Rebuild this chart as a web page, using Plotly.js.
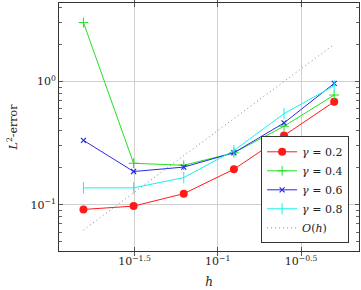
<!DOCTYPE html>
<html>
<head>
<meta charset="utf-8">
<script src="https://cdn.plot.ly/plotly-3.0.1.min.js"></script>
<style>
  html, body { margin: 0; padding: 0; background: #fff; }
  #chart { width: 361px; height: 290px; }
</style>
</head>
<body>
<div id="chart"></div>
<script>
// mesh sizes h = 1/64 ... 1/2
const h = [1/64, 1/32, 1/16, 1/8, 1/4, 1/2];

// L2 errors for each gamma
const err02 = [0.0916, 0.0975, 0.123, 0.194, 0.364, 0.685];
const err04 = [3.0, 0.217, 0.209, 0.264, 0.433, 0.776];
const err06 = [0.333, 0.186, 0.202, 0.264, 0.461, 0.964];
const err08 = [0.137, 0.137, 0.166, 0.275, 0.548, 0.923];

// reference slope: O(h) = 4h
const refCoef = 4;
const refLine = h.map(v => refCoef * v);

const seriesNames = ['<i>γ</i> = 0.2', '<i>γ</i> = 0.4', '<i>γ</i> = 0.6', '<i>γ</i> = 0.8'];
const refName = '<i>O</i>(<i>h</i>)';

const xTickVals = [Math.pow(10, -1.5), 0.1, Math.pow(10, -0.5)];
const xTickText = ['10<sup>−1.5</sup>', '10<sup>−1</sup>', '10<sup>−0.5</sup>'];
const yTickVals = [0.1, 1];
const yTickText = ['10<sup>−1</sup>', '10<sup>0</sup>'];
const yMinorVals = [0.05, 0.06, 0.07, 0.08, 0.09, 0.2, 0.3, 0.4, 0.5, 0.6, 0.7, 0.8, 0.9, 2, 3, 4];

const FONT = 'DejaVu Serif';
const yRange = [-1.375, 0.636];

function series(y, name, color, marker) {
  return {
    x: h, y: y, name: name, type: 'scatter', mode: 'lines+markers',
    line: {color: color, width: 1},
    marker: Object.assign({color: color}, marker)
  };
}

const data = [
  series(err02, seriesNames[0], '#ff1a1a', {symbol: 'circle', size: 8}),
  series(err04, seriesNames[1], '#22e022', {symbol: 'cross-thin', size: 7, line: {color: '#22e022', width: 1}}),
  series(err06, seriesNames[2], '#2a2ae6', {symbol: 'x-thin', size: 5, line: {color: '#2a2ae6', width: 1.2}}),
  series(err08, seriesNames[3], '#19f0f0', {symbol: 'line-ns', size: 8, line: {color: '#19f0f0', width: 1}}),
  {
    x: h, y: refLine, name: refName, type: 'scatter', mode: 'lines',
    line: {color: '#888', width: 1, dash: '1px,3px'}
  },
  // invisible anchor trace so the minor-tick axis gets drawn
  {x: [0.1], y: [0.1], yaxis: 'y2', type: 'scatter', mode: 'none', showlegend: false, hoverinfo: 'skip'}
];

const layout = {
  width: 361, height: 290,
  margin: {l: 59, r: 2, t: 3, b: 39},
  paper_bgcolor: '#fff', plot_bgcolor: '#fff',
  font: {family: FONT, size: 11, color: '#222'},
  showlegend: true,
  legend: {
    x: 0.967, y: 0.031, xanchor: 'right', yanchor: 'bottom',
    bgcolor: '#fff', bordercolor: '#333', borderwidth: 1,
    font: {family: FONT, size: 11, color: '#222'},
    tracegroupgap: 0
  },
  xaxis: {
    type: 'log', range: [-1.953, -0.152],
    tickmode: 'array', tickvals: xTickVals, ticktext: xTickText,
    ticks: 'inside', ticklen: 4, tickcolor: '#555',
    showgrid: true, gridcolor: '#d0d0d0', gridwidth: 1,
    showline: true, linecolor: '#333', linewidth: 1, mirror: 'allticks',
    zeroline: false,
    tickfont: {family: FONT, size: 11, color: '#222'},
    title: {text: '<i>h</i>', font: {family: FONT, size: 12, color: '#222'}, standoff: 10}
  },
  yaxis: {
    type: 'log', range: yRange,
    tickmode: 'array', tickvals: yTickVals, ticktext: yTickText,
    ticks: 'inside', ticklen: 4, tickcolor: '#555',
    showgrid: true, gridcolor: '#d0d0d0', gridwidth: 1,
    showline: true, linecolor: '#333', linewidth: 1, mirror: 'allticks',
    zeroline: false,
    tickfont: {family: FONT, size: 11, color: '#222'},
    title: {text: '<i>L</i><sup>2</sup>-error', font: {family: FONT, size: 11, color: '#222'}, standoff: 10}
  },
  // minor ticks at 2..9 × 10^k on both sides
  yaxis2: {
    type: 'log', range: yRange, overlaying: 'y', side: 'left',
    tickmode: 'array', tickvals: yMinorVals, showticklabels: false,
    ticks: 'inside', ticklen: 3, tickcolor: '#666',
    showgrid: false, zeroline: false, showline: false, mirror: 'allticks'
  }
};

Plotly.newPlot('chart', data, layout, {staticPlot: true, displayModeBar: false});
</script>
</body>
</html>
